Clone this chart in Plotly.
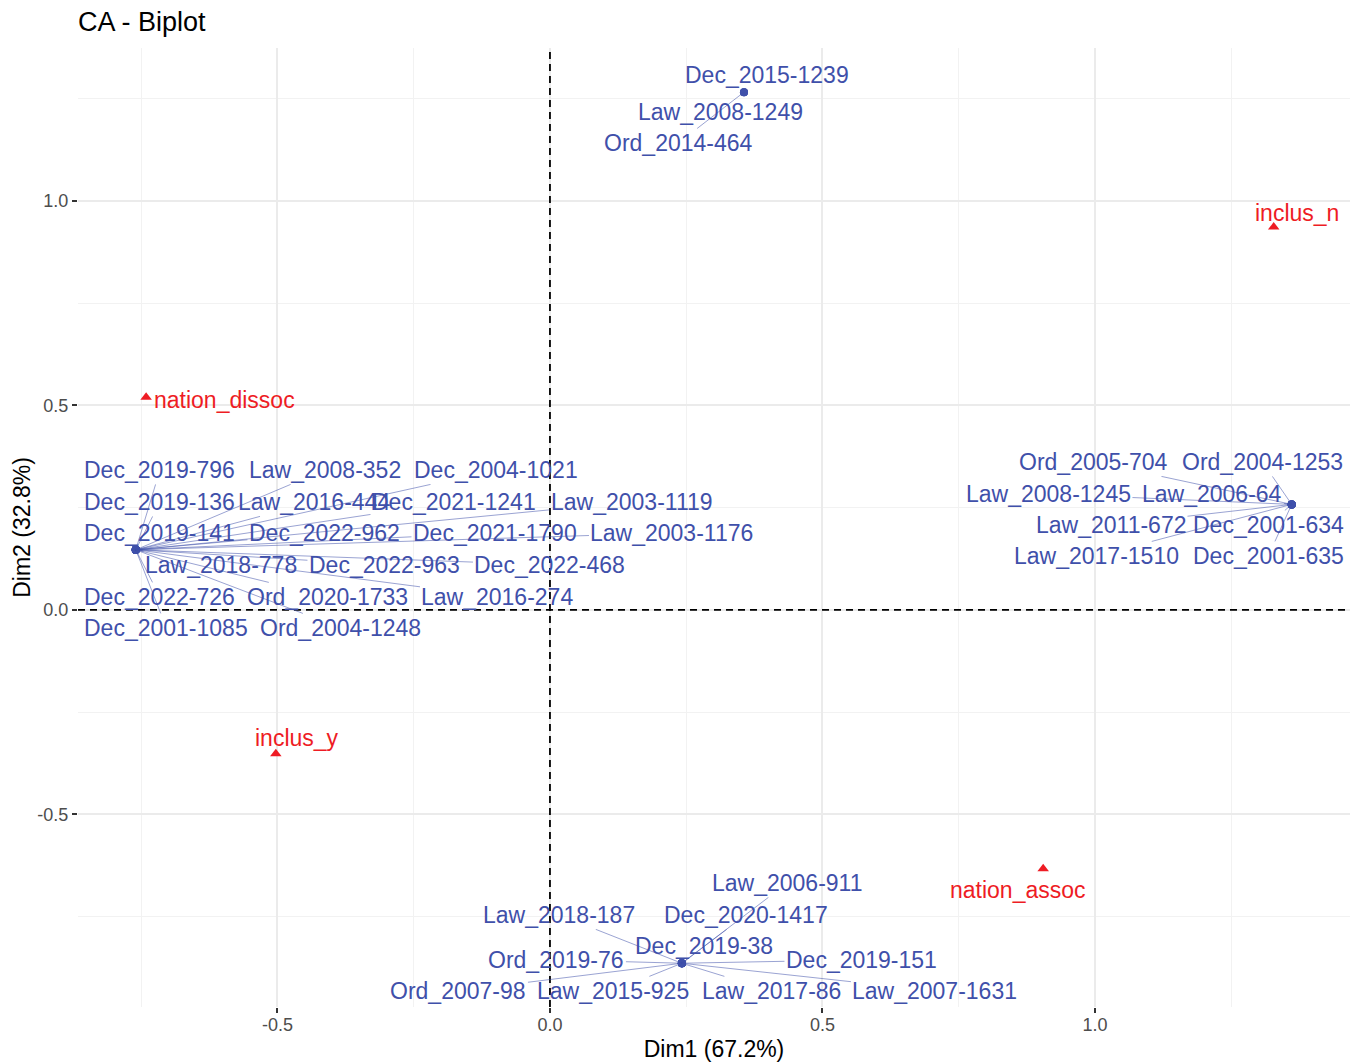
import plotly.graph_objects as go

# ---- Row coordinates (documents) on the first two CA dimensions ----
row_names = [
    # left group
    "Dec_2019-796", "Law_2008-352", "Dec_2004-1021",
    "Dec_2019-136", "Law_2016-444", "Dec_2021-1241", "Law_2003-1119",
    "Dec_2019-141", "Dec_2022-962", "Dec_2021-1790", "Law_2003-1176",
    "Law_2018-778", "Dec_2022-963", "Dec_2022-468",
    "Dec_2022-726", "Ord_2020-1733", "Law_2016-274",
    "Dec_2001-1085", "Ord_2004-1248",
    # right group
    "Ord_2005-704", "Ord_2004-1253", "Law_2008-1245", "Law_2006-64",
    "Law_2011-672", "Dec_2001-634", "Law_2017-1510", "Dec_2001-635",
    # top group
    "Dec_2015-1239", "Law_2008-1249", "Ord_2014-464",
    # bottom group
    "Law_2006-911", "Law_2018-187", "Dec_2020-1417", "Dec_2019-38",
    "Ord_2019-76", "Dec_2019-151", "Ord_2007-98", "Law_2015-925",
    "Law_2017-86", "Law_2007-1631",
]
row_dim1 = [-0.760] * 19 + [1.361] * 8 + [0.356] * 3 + [0.242] * 10
row_dim2 = [0.147] * 19 + [0.258] * 8 + [1.266] * 3 + [-0.864] * 10

# ---- Column coordinates (categories) ----
col_names = ["inclus_n", "nation_dissoc", "inclus_y", "nation_assoc"]
col_dim1 = [1.328, -0.741, -0.503, 0.905]
col_dim2 = [0.936, 0.520, -0.352, -0.633]

dim_inertia = [67.2, 32.8]

tick_vals = [-0.5, 0.0, 0.5, 1.0]
tick_text = ["-0.5", "0.0", "0.5", "1.0"]

# ---- Repelled label placement (text centres, data units) ----
row_label_pos = {
    "Dec_2019-796": (-0.7156, 0.3423), "Law_2008-352": (-0.4128, 0.3423),
    "Dec_2004-1021": (-0.0991, 0.3423),
    "Dec_2019-136": (-0.7156, 0.2641), "Law_2016-444": (-0.4330, 0.2641),
    "Dec_2021-1241": (-0.1761, 0.2641), "Law_2003-1119": (0.1505, 0.2641),
    "Dec_2019-141": (-0.7156, 0.1883), "Dec_2022-962": (-0.4138, 0.1883),
    "Dec_2021-1790": (-0.1009, 0.1883), "Law_2003-1176": (0.2239, 0.1883),
    "Law_2018-778": (-0.6037, 0.1100), "Dec_2022-963": (-0.3037, 0.1100),
    "Dec_2022-468": (0.0, 0.1100),
    "Dec_2022-726": (-0.7156, 0.0318), "Ord_2020-1733": (-0.4073, 0.0318),
    "Law_2016-274": (-0.0963, 0.0318),
    "Dec_2001-1085": (-0.7037, -0.0440), "Ord_2004-1248": (-0.3835, -0.0440),
    "Ord_2005-704": (0.9982, 0.3619), "Ord_2004-1253": (1.3073, 0.3619),
    "Law_2008-1245": (0.9147, 0.2836), "Law_2006-64": (1.2156, 0.2836),
    "Law_2011-672": (1.0294, 0.2078), "Dec_2001-634": (1.3183, 0.2078),
    "Law_2017-1510": (1.0037, 0.1320), "Dec_2001-635": (1.3183, 0.1320),
    "Dec_2015-1239": (0.3991, 1.3081), "Law_2008-1249": (0.3138, 1.2176),
    "Ord_2014-464": (0.2358, 1.1418),
    "Law_2006-911": (0.4358, -0.6675), "Law_2018-187": (0.0165, -0.7457),
    "Dec_2020-1417": (0.3596, -0.7457), "Dec_2019-38": (0.2826, -0.8215),
    "Ord_2019-76": (0.0119, -0.8557), "Dec_2019-151": (0.5716, -0.8557),
    "Ord_2007-98": (-0.1679, -0.9315), "Law_2015-925": (0.1165, -0.9315),
    "Law_2017-86": (0.4064, -0.9315), "Law_2007-1631": (0.7064, -0.9315),
}
# labels sitting close enough to their point that no leader segment is drawn
no_segment = {"Dec_2015-1239", "Law_2008-1249", "Dec_2019-38"}

col_label_pos = {
    "inclus_n": (1.3706, 0.9707), "nation_dissoc": (-0.5963, 0.5134),
    "inclus_y": (-0.4633, -0.3130), "nation_assoc": (0.8596, -0.6846),
}

ROW_COL = "#3F50AA"
COL_COL = "#EE1C24"
FONT = "Liberation Sans, Arial, sans-serif"
LABEL_SIZE = 23
X_RANGE = [-0.866, 1.468]
Y_RANGE = [-0.971, 1.374]

fig = go.Figure()

fig.add_trace(go.Scatter(
    x=row_dim1, y=row_dim2, mode="markers", text=row_names,
    marker=dict(color=ROW_COL, size=8, symbol="circle"),
    showlegend=False, hoverinfo="text",
))
fig.add_trace(go.Scatter(
    x=col_dim1, y=col_dim2, mode="markers", text=col_names,
    marker=dict(color=COL_COL, size=10, symbol="triangle-up"),
    showlegend=False, hoverinfo="text",
))

annotations = []
for name, px, py in zip(row_names, row_dim1, row_dim2):
    lx, ly = row_label_pos[name]
    if name in no_segment:
        annotations.append(dict(
            x=lx, y=ly, xref="x", yref="y", text=name, showarrow=False,
            font=dict(family=FONT, size=LABEL_SIZE, color=ROW_COL),
        ))
    else:
        annotations.append(dict(
            x=px, y=py, ax=lx, ay=ly, xref="x", yref="y", axref="x", ayref="y",
            text=name, showarrow=True, arrowhead=0, arrowwidth=0.7,
            arrowcolor="rgba(63,80,170,0.75)", standoff=0, startstandoff=0,
            font=dict(family=FONT, size=LABEL_SIZE, color=ROW_COL),
        ))
for name in col_names:
    lx, ly = col_label_pos[name]
    annotations.append(dict(
        x=lx, y=ly, xref="x", yref="y", text=name, showarrow=False,
        font=dict(family=FONT, size=LABEL_SIZE, color=COL_COL),
    ))

# dashed reference lines through the origin
shapes = [
    dict(type="line", xref="x", yref="paper", x0=0, x1=0, y0=0, y1=1,
         line=dict(color="black", width=1.8, dash="7px,5px"), layer="above"),
    dict(type="line", xref="paper", yref="y", x0=0, x1=1, y0=0, y1=0,
         line=dict(color="black", width=1.8, dash="7px,5px"), layer="above"),
]

axis_common = dict(
    showgrid=True, gridcolor="#EBEBEB", gridwidth=1.6,
    zeroline=False, showline=False, automargin=False,
    ticks="outside", ticklen=5, tickwidth=1.6, tickcolor="#333333",
    tickfont=dict(family=FONT, size=18, color="#4D4D4D"),
    tickmode="array", tickvals=tick_vals, ticktext=tick_text,
    minor=dict(tickmode="linear", tick0=0, dtick=0.25, showgrid=True,
               gridcolor="#F2F2F2", gridwidth=1, ticks=""),
)

fig.update_layout(
    width=1356, height=1062,
    margin=dict(l=78, r=6, t=48, b=55),
    paper_bgcolor="white", plot_bgcolor="white",
    font=dict(family=FONT),
    title=dict(text="CA - Biplot", x=0, xref="paper", xanchor="left",
               y=1 - 22 / 1062, yref="container", yanchor="middle",
               font=dict(family=FONT, size=27, color="black")),
    xaxis=dict(range=X_RANGE, ticklabelstandoff=-4,
               title=dict(text=f"Dim1 ({dim_inertia[0]}%)", standoff=8,
                          font=dict(family=FONT, size=23, color="black")),
               **axis_common),
    yaxis=dict(range=Y_RANGE,
               title=dict(text=f"Dim2 ({dim_inertia[1]}%)", standoff=0,
                          font=dict(family=FONT, size=23, color="black")),
               **axis_common),
    annotations=annotations,
    shapes=shapes,
)

fig.write_html("out.html")
